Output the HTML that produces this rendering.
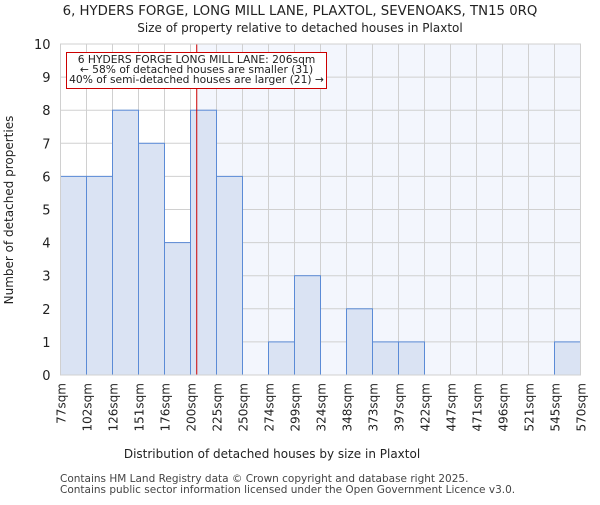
<!DOCTYPE html>
<html><head><meta charset="utf-8"><style>
body{margin:0;background:#fff;font-family:"Liberation Sans","DejaVu Sans",sans-serif}
text{font-family:"DejaVu Sans","Liberation Sans",sans-serif}
</style></head><body>
<svg id="c" width="600" height="500" xmlns="http://www.w3.org/2000/svg">
<text x="300" y="15" font-size="13.3" text-anchor="middle" fill="#222">6, HYDERS FORGE, LONG MILL LANE, PLAXTOL, SEVENOAKS, TN15 0RQ</text>
<text x="300" y="32" font-size="12" text-anchor="middle" fill="#222">Size of property relative to detached houses in Plaxtol</text>
<g id="plot"></g>
<text x="272" y="458" font-size="12" text-anchor="middle" fill="#222">Distribution of detached houses by size in Plaxtol</text>
<text transform="translate(13,210) rotate(-90)" font-size="12" text-anchor="middle" fill="#222">Number of detached properties</text>
<text x="60" y="482" font-size="10.5" fill="#444">Contains HM Land Registry data © Crown copyright and database right 2025.</text>
<text x="60" y="493" font-size="10.5" fill="#444">Contains public sector information licensed under the Open Government Licence v3.0.</text>
</svg>
<script>
const binLabels=["77sqm","102sqm","126sqm","151sqm","176sqm","200sqm","225sqm","250sqm","274sqm","299sqm","324sqm","348sqm","373sqm","397sqm","422sqm","447sqm","471sqm","496sqm","521sqm","545sqm","570sqm"];
const counts=[6,6,8,7,4,8,6,0,1,3,0,2,1,1,0,0,0,0,0,1];
const yTicks=[0,1,2,3,4,5,6,7,8,9,10];
const propertyBin=5.24;
const NS="http://www.w3.org/2000/svg";
const L=60.5,R=580.5,T=44,B=375;
const n=counts.length;
const x=i=>L+(R-L)*i/n;
const y=v=>B-(B-T)*v/10;
const g=document.getElementById('plot');
function mk(t,a){const e=document.createElementNS(NS,t);for(const k in a)e.setAttribute(k,a[k]);g.appendChild(e);return e;}
let e=mk('rect',{x:x(propertyBin),y:T,width:R-x(propertyBin),height:B-T,fill:'#f3f6fd'});


for(const v of yTicks){
 e=mk('line',{x1:L,x2:R,y1:y(v),y2:y(v),stroke:'#d0d0d0','stroke-width':1});
 
 
 e=mk('text',{x:L-10,y:y(v)+5,'font-size':13,'text-anchor':'end',fill:'#222'});e.textContent=v;
 
 
}
for(let i=0;i<=n;i++){
 e=mk('line',{x1:x(i),x2:x(i),y1:T,y2:B,stroke:'#d0d0d0','stroke-width':1});
 
 
 e=mk('text',{transform:`translate(${x(i)+5},${B+8}) rotate(-90)`,'font-size':12,'text-anchor':'end',fill:'#222'});e.textContent=binLabels[i];
 
 
}
counts.forEach((c,i)=>{
 if(c<=0)return;
 e=mk('rect',{x:x(i),y:y(c),width:x(i+1)-x(i),height:B-y(c),fill:'#dae3f3',stroke:'#5b8bd6','stroke-width':1});
 
 
});
e=mk('line',{x1:x(propertyBin),x2:x(propertyBin),y1:T,y2:B,stroke:'#cc0000','stroke-width':1});


e=mk('rect',{x:66.5,y:52.5,width:260,height:36,fill:'#fff',stroke:'#cc0000','stroke-width':1});


["6 HYDERS FORGE LONG MILL LANE: 206sqm","← 58% of detached houses are smaller (31)","40% of semi-detached houses are larger (21) →"].forEach((t,i)=>{
 e=mk('text',{x:196.5,y:63+i*10,'font-size':10.7,'text-anchor':'middle',fill:'#222'});e.textContent=t;
 
 
});
e=mk('rect',{x:L,y:T,width:R-L,height:B-T,fill:'none',stroke:'#d0d0d0','stroke-width':1});


</script>
</body></html>
